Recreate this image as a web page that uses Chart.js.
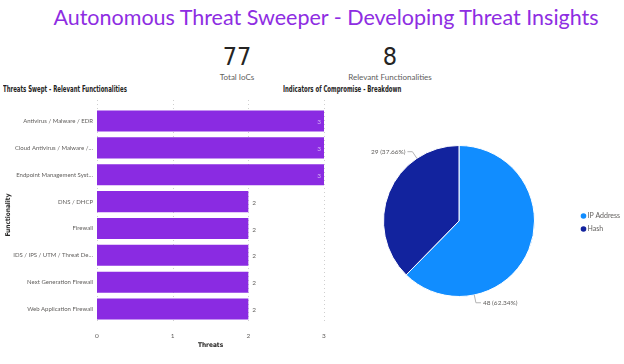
<!DOCTYPE html>
<html lang="en">
<head>
  <meta charset="UTF-8">
  <title>Autonomous Threat Sweeper</title>
  <script src="https://cdn.jsdelivr.net/npm/chart.js"></script>
  <style>
    body { margin: 0; width: 624px; height: 364px; background: #fff; position: relative; overflow: hidden; font-family: Lato, sans-serif; }
    .abs { position: absolute; white-space: nowrap; }
    #title { left: 0; width: 652px; top: 4px; text-align: center; font-family: Lato, sans-serif; font-size: 21.5px; color: #8e2de2; }
    .kpi { font-family: "DejaVu Sans Condensed", sans-serif; font-size: 25px; color: #252423; text-align: center; width: 160px; top: 42px; }
    .kpiLabel { font-size: 8px; color: #605e5c; text-align: center; width: 160px; top: 72px; }
    .chartTitle { font-family: "DejaVu Sans Condensed", sans-serif; font-weight: bold; font-size: 8px; color: #252423; top: 85px; transform: scaleX(0.75); transform-origin: left center; }
    canvas { position: absolute; }
  </style>
</head>
<body>
  <div id="title" class="abs">Autonomous Threat Sweeper - Developing Threat Insights</div>

  <div class="abs kpi" style="left:157px">77</div>
  <div class="abs kpiLabel" style="left:157px">Total IoCs</div>
  <div class="abs kpi" style="left:310px">8</div>
  <div class="abs kpiLabel" style="left:310px">Relevant Functionalities</div>

  <div class="abs chartTitle" style="left:3px">Threats Swept - Relevant Functionalities</div>
  <div class="abs chartTitle" style="left:283px">Indicators of Compromise - Breakdown</div>

  <canvas id="barChart" style="left:0;top:100px" width="330" height="252"></canvas>
  <canvas id="pieChart" style="left:340px;top:120px" width="284" height="202"></canvas>

  <script>
    // functionality bar chart
    const functionalities = [
      'Antivirus / Malware / EDR',
      'Cloud Antivirus / Malware /…',
      'Endpoint Management Syst…',
      'DNS / DHCP',
      'Firewall',
      'IDS / IPS / UTM / Threat De…',
      'Next Generation Firewall',
      'Web Application Firewall'
    ];
    const threats = [3, 3, 3, 2, 2, 2, 2, 2];
    const threatTicks = [0, 1, 2, 3];

    // IoC pie chart
    const iocTypes = ['IP Address', 'Hash'];
    const iocCounts = [48, 29];

    const purple = '#8a2be2';
    const grayText = '#605e5c';
    const axisTitleFont = { size: 6.5, weight: 'bold', family: 'DejaVu Sans Condensed' };

    // value labels at the end of each bar
    const barLabels = {
      id: 'barLabels',
      afterDatasetsDraw(chart) {
        const ctx = chart.ctx;
        const meta = chart.getDatasetMeta(0);
        const xMax = chart.chartArea.right;
        ctx.save();
        ctx.font = '6.5px Lato';
        ctx.textBaseline = 'middle';
        meta.data.forEach((bar, i) => {
          const txt = String(chart.data.datasets[0].data[i]);
          if (bar.x + 12 > xMax) {
            ctx.fillStyle = '#d4b0f5';
            ctx.textAlign = 'right';
            ctx.fillText(txt, bar.x - 3, bar.y + 1);
          } else {
            ctx.fillStyle = grayText;
            ctx.textAlign = 'left';
            ctx.fillText(txt, bar.x + 4, bar.y + 1);
          }
        });
        ctx.restore();
      }
    };

    new Chart(document.getElementById('barChart'), {
      type: 'bar',
      data: {
        labels: functionalities,
        datasets: [{
          data: threats,
          backgroundColor: purple,
          barPercentage: 0.8,
          categoryPercentage: 0.98
        }]
      },
      options: {
        indexAxis: 'y',
        responsive: false,
        animation: false,
        layout: { padding: { left: 4, right: 6, top: 0, bottom: 0 } },
        plugins: { legend: { display: false }, tooltip: { enabled: false } },
        scales: {
          x: {
            min: 0,
            max: 3,
            afterBuildTicks: s => { s.ticks = threatTicks.map(v => ({ value: v })); },
            afterFit: s => { s.height = 29.5; },
            border: { display: false },
            grid: { display: false },
            ticks: { color: grayText, font: { size: 6.5, family: 'Lato' }, padding: 2 },
            title: { display: true, text: 'Threats', color: '#252423', font: axisTitleFont, padding: { top: 0, bottom: 3 } }
          },
          y: {
            afterFit: s => { s.width = 93; },
            border: { display: false },
            grid: { display: false, drawTicks: false },
            ticks: { color: grayText, font: { size: 6, family: 'Lato' }, padding: 4 },
            title: { display: true, text: 'Functionality', color: '#252423', font: axisTitleFont, padding: 0 }
          }
        }
      },
      plugins: [barLabels, {
        id: 'dotGrid',
        beforeDatasetsDraw(chart) {
          // dotted vertical grid lines
          const ctx = chart.ctx, x = chart.scales.x, a = chart.chartArea;
          ctx.save();
          ctx.strokeStyle = '#cfcfcf';
          ctx.setLineDash([1, 3]);
          ctx.lineWidth = 1;
          threatTicks.forEach(t => {
            const px = Math.round(x.getPixelForValue(t)) + 0.5;
            ctx.beginPath();
            ctx.moveTo(px, 0);
            ctx.lineTo(px, a.bottom);
            ctx.stroke();
          });
          ctx.restore();
        }
      }]
    });

    // pie labels with leader lines + legend
    const pieExtras = {
      id: 'pieExtras',
      afterDatasetsDraw(chart) {
        const ctx = chart.ctx;
        const meta = chart.getDatasetMeta(0);
        const data = chart.data.datasets[0].data;
        const total = data.reduce((a, b) => a + b, 0);
        ctx.save();
        ctx.font = '6.5px Lato';
        ctx.textBaseline = 'middle';
        meta.data.forEach((arc, i) => {
          const ang = arc.startAngle + 0.75 * (arc.endAngle - arc.startAngle);
          const r = arc.outerRadius;
          const cx = arc.x, cy = arc.y;
          const p1 = { x: cx + Math.cos(ang) * r, y: cy + Math.sin(ang) * r };
          const p2 = { x: cx + Math.cos(ang) * (r + 8), y: cy + Math.sin(ang) * (r + 8) };
          const right = Math.cos(ang) >= 0;
          const p3 = { x: p2.x + (right ? 5 : -5), y: p2.y };
          ctx.strokeStyle = '#b3b3b3';
          ctx.lineWidth = 1;
          ctx.beginPath();
          ctx.moveTo(p1.x, p1.y);
          ctx.lineTo(p2.x, p2.y);
          ctx.lineTo(p3.x, p3.y);
          ctx.stroke();
          const txt = data[i] + ' (' + (data[i] / total * 100).toFixed(2) + '%)';
          ctx.fillStyle = grayText;
          ctx.textAlign = right ? 'left' : 'right';
          ctx.fillText(txt, p3.x + (right ? 2 : -2), p3.y);
        });
        // legend
        ctx.font = '7px Lato';
        ctx.textAlign = 'left';
        chart.data.labels.forEach((lab, i) => {
          const y = 96 + i * 13;
          ctx.fillStyle = chart.data.datasets[0].backgroundColor[i];
          ctx.beginPath();
          ctx.arc(243.5, y, 2.8, 0, Math.PI * 2);
          ctx.fill();
          ctx.fillStyle = grayText;
          ctx.fillText(lab, 247.5, y);
        });
        ctx.restore();
      }
    };

    new Chart(document.getElementById('pieChart'), {
      type: 'pie',
      data: {
        labels: iocTypes,
        datasets: [{
          data: iocCounts,
          backgroundColor: ['#118dff', '#12239e'],
          borderColor: '#ffffff',
          borderWidth: 1
        }]
      },
      options: {
        responsive: false,
        animation: false,
        layout: { padding: { left: 43, right: 89, top: 25, bottom: 25 } },
        plugins: { legend: { display: false }, tooltip: { enabled: false } }
      },
      plugins: [pieExtras]
    });
  </script>
</body>
</html>
